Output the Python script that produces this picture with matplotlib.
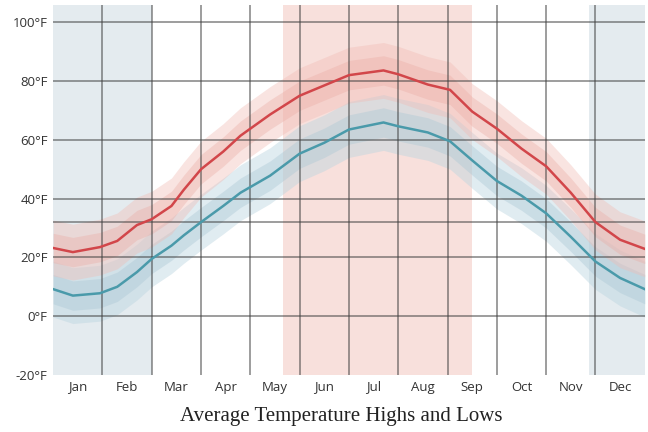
import matplotlib.pyplot as plt
import numpy as np

# month position (0 = Jan 1, 12 = Dec 31) and temperatures in °F
month_pos = [0, 0.4, 0.95, 1.3, 1.7, 2.0, 2.4, 2.65, 3.0, 3.45, 3.8, 4.4, 5.0, 5.5,
             6.0, 6.7, 7.0, 7.6, 8.05, 8.5, 9.0, 9.5, 10.0, 10.5, 11.0, 11.5, 12.0]
highs = [23.2, 21.8, 23.5, 25.6, 31, 33, 37.5, 43, 50, 56, 61.4, 68.6, 75, 78.5,
         82, 83.6, 82.3, 78.8, 77, 69.6, 63.8, 57, 51, 42, 32, 26, 22.9]
lows = [9.2, 7.0, 7.8, 10, 15, 19.5, 24, 27.5, 32, 37.5, 42, 47.8, 55.3, 59,
        63.5, 65.9, 64.6, 62.5, 59.5, 53, 46, 41, 35, 27, 18.6, 13, 9.2]

# spread around the averages (°F)
inner_spread = 5
outer_spread = 9.5

months = ['Jan', 'Feb', 'Mar', 'Apr', 'May', 'Jun',
          'Jul', 'Aug', 'Sep', 'Oct', 'Nov', 'Dec']
y_ticks = [-20, 0, 20, 40, 60, 80, 100]
freezing = 32

# seasons shaded in the background (month positions)
winter = [(0, 2.0), (10.87, 12)]
summer = (4.67, 8.5)


def main():
    x = np.array(month_pos)
    hi = np.array(highs)
    lo = np.array(lows)

    fig = plt.figure(figsize=(6.48, 4.32), dpi=100)
    ax = fig.add_axes([0.082, 0.132, 0.913, 0.856])

    for a, b in winter:
        ax.axvspan(a, b, color='#e4ebef', lw=0, zorder=0)
    ax.axvspan(summer[0], summer[1], color='#f8e0dc', lw=0, zorder=0)

    # bands
    ax.fill_between(x, lo - outer_spread, lo + outer_spread, color='#bcd5e0', alpha=0.45, lw=0, zorder=1)
    ax.fill_between(x, lo - inner_spread, lo + inner_spread, color='#abc7d5', alpha=0.4, lw=0, zorder=1)
    ax.fill_between(x, hi - outer_spread, hi + outer_spread, color='#f1bcb5', alpha=0.4, lw=0, zorder=1)
    ax.fill_between(x, hi - inner_spread, hi + inner_spread, color='#eaa9a1', alpha=0.35, lw=0, zorder=1)

    # grid
    for m in range(1, 12):
        ax.axvline(m, color='#404040', lw=1.1, alpha=0.65, zorder=2)
    for t in y_ticks[1:] + [freezing]:
        ax.axhline(t, color='#404040', lw=1.1, alpha=0.65, zorder=2)

    ax.plot(x, hi, color='#d2464a', lw=1.8, zorder=3)
    ax.plot(x, lo, color='#4a9aaa', lw=1.8, zorder=3)

    ax.set_xlim(0, 12)
    ax.set_ylim(-20, 105.8)
    ax.set_xticks(np.arange(12) + 0.5)
    ax.set_xticklabels(months, fontsize=9.5, color='#333333', family='Open Sans')
    ax.set_yticks(y_ticks)
    ax.set_yticklabels(['%d°F' % t for t in y_ticks], fontsize=9.5, color='#333333', family='Open Sans')
    ax.tick_params(length=0, pad=4)
    for s in ax.spines.values():
        s.set_visible(False)

    fig.text(0.527, 0.025, 'Average Temperature Highs and Lows', ha='center', va='baseline',
             fontsize=15, family='Liberation Serif', color='#222222')

    fig.savefig('out.png', dpi=100)


if __name__ == '__main__':
    main()
